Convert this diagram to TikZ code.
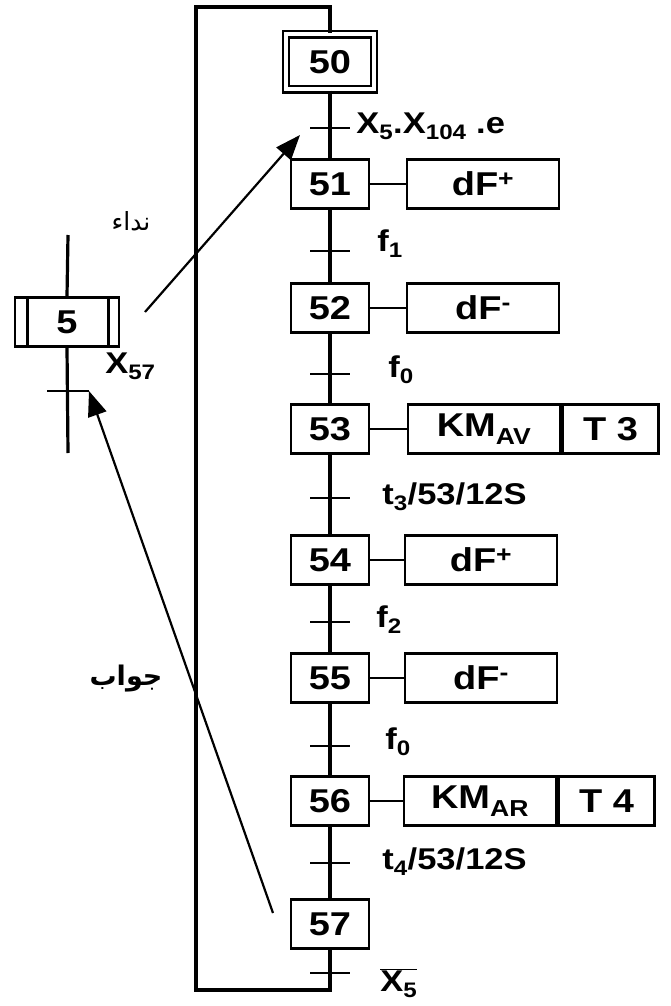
\documentclass[tikz,border=0pt]{standalone}
\usepackage{fontspec}
\setmainfont{Liberation Sans}[FakeStretch=1.15]
\newfontfamily\arabicfont[Script=Arabic]{DejaVu Sans}
\TeXXeTstate=1
\usetikzlibrary{arrows.meta}

\begin{document}
\begin{tikzpicture}[x=1pt, y=-1pt, line width=2.6pt,
  etape/.style={draw, minimum width=78pt, minimum height=49pt, inner sep=0pt, font=\bfseries\fontsize{33}{34}\selectfont},
  action/.style={draw, minimum width=152pt, minimum height=49pt, inner sep=0pt, font=\bfseries\fontsize{33}{34}\selectfont},
  tempo/.style={draw, minimum width=96pt, minimum height=49pt, inner sep=0pt, anchor=west, font=\bfseries\fontsize{33}{34}\selectfont},
  recept/.style={anchor=west, inner sep=0pt, font=\bfseries\fontsize{30}{32}\selectfont},
  liaison/.style={line width=3.2pt},
  fleche/.style={line width=2.2pt, -{Triangle[length=25pt,width=19pt]}}]
\useasboundingbox (0,0) rectangle (670,1006);

% grafcet esclave
\node[etape, double, double distance=4pt, line width=2.2pt, minimum width=88pt, minimum height=55pt] (E50) at (330,62) {50};
\node[etape] (E51) at (330,184) {51};
\node[etape] (E52) at (330,308) {52};
\node[etape] (E53) at (330,429) {53};
\node[etape] (E54) at (330,560) {54};
\node[etape] (E55) at (330,678) {55};
\node[etape] (E56) at (330,801) {56};
\node[etape] (E57) at (330,924) {57};

\node[action] (A51) at (483,184) {dF\textsuperscript{+}};
\node[action] (A52) at (483,308) {dF\textsuperscript{-}};
\node[action] (A53) at (484,429) {KM\textsubscript{AV}};
\node[tempo] (T53) at (A53.east) {T 3};
\node[action] (A54) at (481,560) {dF\textsuperscript{+}};
\node[action] (A55) at (481,678) {dF\textsuperscript{-}};
\node[action] (A56) at (480,801) {KM\textsubscript{AR}};
\node[tempo] (T56) at (A56.east) {T 4};

\draw (E51.east) -- (A51.west);
\draw (E52.east) -- (A52.west);
\draw (E53.east) -- (A53.west);
\draw (E54.east) -- (A54.west);
\draw (E55.east) -- (A55.west);
\draw (E56.east) -- (A56.west);

\coordinate (t50) at (330,128);
\coordinate (t51) at (330,251);
\coordinate (t52) at (330,374);
\coordinate (t53) at (330,498);
\coordinate (t54) at (330,622);
\coordinate (t55) at (330,746);
\coordinate (t56) at (330,863);
\coordinate (t57) at (330,973);
\coordinate (bas) at (196,990);
\coordinate (haut) at (196,7);

\draw[liaison] (E50) -- (E51);
\draw[liaison] (E51) -- (E52);
\draw[liaison] (E52) -- (E53);
\draw[liaison] (E53) -- (E54);
\draw[liaison] (E54) -- (E55);
\draw[liaison] (E55) -- (E56);
\draw[liaison] (E56) -- (E57);
\draw[liaison] (E57.south) |- (bas) -- (haut) -| (E50.north);

\draw ([xshift=-20pt]t50) -- ([xshift=20pt]t50);
\draw ([xshift=-20pt]t51) -- ([xshift=20pt]t51);
\draw ([xshift=-20pt]t52) -- ([xshift=20pt]t52);
\draw ([xshift=-20pt]t53) -- ([xshift=20pt]t53);
\draw ([xshift=-20pt]t54) -- ([xshift=20pt]t54);
\draw ([xshift=-20pt]t55) -- ([xshift=20pt]t55);
\draw ([xshift=-20pt]t56) -- ([xshift=20pt]t56);
\draw ([xshift=-20pt]t57) -- ([xshift=20pt]t57);

\node[recept] (R50) at (355,126) {X\textsubscript{5}.X\textsubscript{104} .e};
\node[recept] (R51) at (376,244) {f\textsubscript{1}};
\node[recept] (R52) at (387,370) {f\textsubscript{0}};
\node[recept] (R53) at (381,497) {t\textsubscript{3}/53/12S};
\node[recept] (R54) at (375,620) {f\textsubscript{2}};
\node[recept] (R55) at (384,742) {f\textsubscript{0}};
\node[recept] (R56) at (381,862) {t\textsubscript{4}/53/12S};
\node[recept] (R57) at (379,983) {$\overline{\mbox{X\textsubscript{5}}}$};

% grafcet maitre
\node[etape, minimum width=104pt] (M5) at (67,322) {5};
\draw ([xshift=14pt]M5.north west) -- ([xshift=14pt]M5.south west);
\draw ([xshift=-12pt]M5.north east) -- ([xshift=-12pt]M5.south east);
\coordinate (h5) at (68,235);
\coordinate (b5) at (68,453);
\coordinate (t5) at (68,391);
\draw[liaison] (h5) -- (M5.north);
\draw[liaison] (M5.south) -- (b5);
\draw ([xshift=-21pt]t5) coordinate (t5g) -- ([xshift=21pt]t5) coordinate (t5d);
\node[recept] (X57) at (104,366) {X\textsubscript{57}};

% liaisons entre grafcets
\coordinate (d1) at (145,312);
\coordinate (v1) at (300,135);
\coordinate (d2) at (273,913);
\draw[fleche] (d1) -- (v1);
\draw[fleche] (d2) -- (t5d);
\node[font=\arabicfont\fontsize{25}{26}\selectfont] (appel) at (131,221) {\beginR نداء\endR};
\node[font=\arabicfont\bfseries\fontsize{27}{28}\selectfont] (reponse) at (126,679) {\beginR جواب\endR};
\end{tikzpicture}
\end{document}
